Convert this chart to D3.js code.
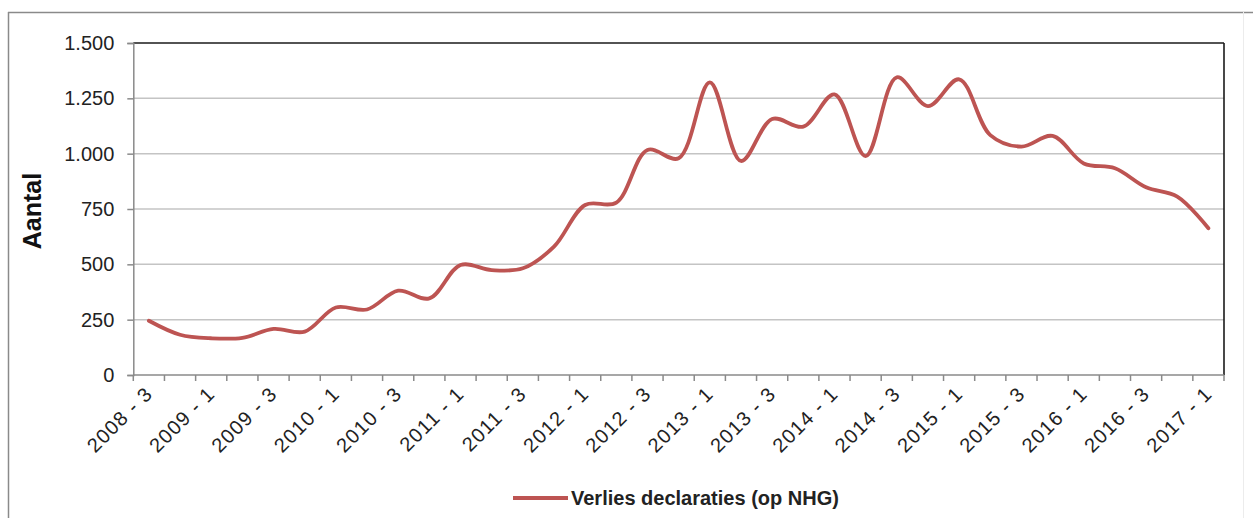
<!DOCTYPE html>
<html>
<head>
<meta charset="utf-8">
<script src="https://cdn.jsdelivr.net/npm/d3@7"></script>
<style>
  html, body { margin: 0; padding: 0; background: #fff; }
  svg { display: block; font-family: "Liberation Sans", Arial, sans-serif; }
</style>
</head>
<body>
<svg id="chart" width="1253" height="518"></svg>
<script>
const categories = [
  "2008 - 3","2008 - 4",
  "2009 - 1","2009 - 2","2009 - 3","2009 - 4",
  "2010 - 1","2010 - 2","2010 - 3","2010 - 4",
  "2011 - 1","2011 - 2","2011 - 3","2011 - 4",
  "2012 - 1","2012 - 2","2012 - 3","2012 - 4",
  "2013 - 1","2013 - 2","2013 - 3","2013 - 4",
  "2014 - 1","2014 - 2","2014 - 3","2014 - 4",
  "2015 - 1","2015 - 2","2015 - 3","2015 - 4",
  "2016 - 1","2016 - 2","2016 - 3","2016 - 4",
  "2017 - 1"
];
const verliesValues = [
  245, 182, 166, 168, 208, 196, 305, 296, 381, 346,
  497, 474, 482, 580, 768, 779, 1017, 979, 1322, 967,
  1157, 1122, 1268, 989, 1345, 1215, 1336, 1084, 1032, 1080,
  956, 934, 848, 806, 663
];
const yTicks = [0, 250, 500, 750, 1000, 1250, 1500];
const seriesName = "Verlies declaraties (op NHG)";
const yTitle = "Aantal";

const svg = d3.select("#chart");
const W = 1253, H = 518;
const plot = { left: 133.3, right: 1224, top: 43, bottom: 375 };

// outer chart frame
svg.append("line").attr("x1", 8).attr("x2", W).attr("y1", 12.5).attr("y2", 12.5)
  .attr("stroke", "#8a8a8a").attr("stroke-width", 1.5);
svg.append("line").attr("x1", 8.5).attr("x2", 8.5).attr("y1", 12).attr("y2", H)
  .attr("stroke", "#8a8a8a").attr("stroke-width", 1.5);
svg.append("line").attr("x1", 1243.5).attr("x2", 1243.5).attr("y1", 12).attr("y2", H)
  .attr("stroke", "#ececec").attr("stroke-width", 1);

const x = d3.scaleBand().domain(categories).range([plot.left, plot.right]).padding(0);
const y = d3.scaleLinear().domain([0, 1500]).range([plot.bottom, plot.top]);

const nl = d3.formatLocale({ decimal: ",", thousands: ".", grouping: [3], currency: ["", ""] });
const fmt = nl.format(",");

// gridlines
svg.append("g").selectAll("line").data(yTicks.filter(d => d > 0 && d < 1500)).join("line")
  .attr("x1", plot.left).attr("x2", plot.right)
  .attr("y1", d => y(d)).attr("y2", d => y(d))
  .attr("stroke", "#c4c4c4").attr("stroke-width", 1.5);

// top & right plot border
svg.append("line").attr("x1", plot.left).attr("x2", plot.right).attr("y1", y(1500)).attr("y2", y(1500))
  .attr("stroke", "#1a1a1a").attr("stroke-width", 1.6);
svg.append("line").attr("x1", plot.right).attr("x2", plot.right).attr("y1", y(1500)).attr("y2", y(0))
  .attr("stroke", "#1a1a1a").attr("stroke-width", 1.6);

// y axis
const yAxis = svg.append("g").attr("transform", `translate(${plot.left},0)`)
  .call(d3.axisLeft(y).tickValues(yTicks).tickFormat(fmt).tickSize(6).tickPadding(13));
yAxis.select(".domain").attr("stroke", "#8a8a8a").attr("stroke-width", 1.5);
yAxis.selectAll(".tick line").attr("stroke", "#8a8a8a").attr("stroke-width", 1.5);
yAxis.selectAll(".tick text").attr("font-size", 20).attr("fill", "#222")
  .attr("font-family", "Liberation Sans, Arial, sans-serif");

// x axis: domain line + boundary ticks
const xg = svg.append("g");
xg.append("line").attr("x1", plot.left).attr("x2", plot.right).attr("y1", plot.bottom).attr("y2", plot.bottom)
  .attr("stroke", "#8a8a8a").attr("stroke-width", 1.5);
const bounds = categories.map(c => x(c)).concat([x(categories[categories.length - 1]) + x.bandwidth()]);
xg.selectAll("line.tk").data(bounds).join("line").attr("class", "tk")
  .attr("x1", d => d).attr("x2", d => d).attr("y1", plot.bottom).attr("y2", plot.bottom + 6)
  .attr("stroke", "#8a8a8a").attr("stroke-width", 1.5);

const labelCats = categories.filter((c, i) => i % 2 === 0);
xg.selectAll("text.xl").data(labelCats).join("text").attr("class", "xl")
  .attr("transform", d => `translate(${x(d) + x.bandwidth() / 2 + 5},${plot.bottom + 20}) rotate(-45)`)
  .attr("text-anchor", "end")
  .attr("font-size", 20).attr("letter-spacing", 1.2).attr("fill", "#222")
  .text(d => d);

// y title
svg.append("text")
  .attr("transform", `translate(41,${(plot.top + plot.bottom) / 2 + 2}) rotate(-90)`)
  .attr("text-anchor", "middle").attr("font-size", 25).attr("font-weight", "bold").attr("fill", "#111")
  .text(yTitle);

// line
const line = d3.line()
  .x((d, i) => x(categories[i]) + x.bandwidth() / 2)
  .y(d => y(d))
  .curve(d3.curveCatmullRom.alpha(0.5));
svg.append("path").datum(verliesValues)
  .attr("d", line).attr("fill", "none")
  .attr("stroke", "#bd5452").attr("stroke-width", 3.8).attr("stroke-linejoin", "round").attr("stroke-linecap", "round");

// legend
const lg = svg.append("g");
lg.append("line").attr("x1", 513).attr("x2", 568).attr("y1", 498).attr("y2", 498)
  .attr("stroke", "#bd5452").attr("stroke-width", 4);
lg.append("text").attr("x", 571).attr("y", 505).attr("font-size", 20).attr("font-weight", "bold")
  .attr("fill", "#222").text(seriesName);
</script>
</body>
</html>
